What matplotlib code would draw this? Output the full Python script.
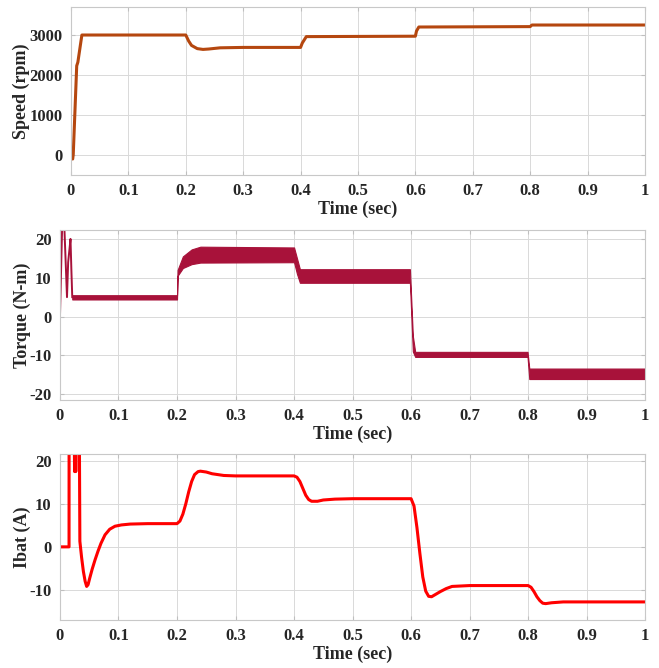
import matplotlib.pyplot as plt

# speed (rpm)
speed_t = [0, 0.003, 0.004, 0.01, 0.012, 0.019, 0.2, 0.205, 0.21, 0.22, 0.23, 0.24,
           0.26, 0.3, 0.4, 0.403, 0.41, 0.6, 0.602, 0.606, 0.8, 0.803, 1.0]
speed_v = [-60, -100, 25, 2230, 2320, 3000, 3000, 2850, 2740, 2660, 2640, 2650,
           2680, 2690, 2690, 2800, 2960, 2970, 3100, 3200, 3210, 3250, 3250]

# torque start-up transient (N-m)
torque_start_t = [0, 0.004, 0.0055, 0.007, 0.012, 0.014, 0.016, 0.018, 0.0195, 0.021]
torque_start_v = [0, 25, 40, 25, 5, 14, 17, 20, 12, 5]

# torque ripple band (upper / lower envelope)
torque_t = [0.021, 0.2, 0.201, 0.21, 0.225, 0.24, 0.4, 0.405, 0.41, 0.598,
            0.603, 0.607, 0.799, 0.802, 1.0]
torque_hi = [5.5, 5.5, 12, 15.5, 17.3, 18.0, 17.8, 15, 12.2, 12.2,
             -5, -9.1, -9.1, -13.4, -13.4]
torque_lo = [4.4, 4.4, 10.5, 12.5, 13.5, 13.9, 14.0, 11, 8.7, 8.7,
             -9, -10.4, -10.4, -16.1, -16.1]

# battery current (A)
ibat_t = [0, 0.0155, 0.0156, 0.024, 0.025, 0.026, 0.027, 0.028, 0.030, 0.033,
          0.034, 0.037, 0.040, 0.043, 0.0456, 0.048, 0.051, 0.055, 0.06, 0.065,
          0.07, 0.077, 0.085, 0.094, 0.105, 0.12, 0.15, 0.2, 0.205, 0.21, 0.215,
          0.22, 0.225, 0.23, 0.236, 0.24, 0.25, 0.26, 0.28, 0.3, 0.35, 0.4,
          0.405, 0.41, 0.415, 0.42, 0.425, 0.43, 0.44, 0.45, 0.47, 0.5,
          0.6, 0.605, 0.61, 0.615, 0.62, 0.625, 0.63, 0.635, 0.64, 0.65, 0.66,
          0.67, 0.7, 0.8, 0.805, 0.81, 0.815, 0.82, 0.825, 0.83, 0.84, 0.86,
          0.9, 1.0]
ibat_v = [0, 0, 30, 30, 17.5, 30, 17.5, 30, 30, 30,
          1.3, -2.5, -5.7, -8.0, -9.2, -8.8, -7.2, -5.2, -3.0, -1.0,
          0.8, 2.8, 4.1, 4.8, 5.1, 5.3, 5.4, 5.4, 6.0, 7.6, 10.0,
          12.8, 15.2, 16.8, 17.5, 17.6, 17.4, 17.0, 16.6, 16.5, 16.5, 16.5,
          16.2, 15.2, 13.6, 12.0, 11.0, 10.6, 10.6, 10.9, 11.1, 11.2,
          11.2, 9.5, 4.5, -1.5, -7.0, -10.3, -11.5, -11.6, -11.2, -10.4, -9.7,
          -9.2, -9.0, -9.0, -9.4, -10.4, -11.6, -12.5, -13.1, -13.2, -13.0, -12.8,
          -12.8, -12.8]

xticks = [0, 0.1, 0.2, 0.3, 0.4, 0.5, 0.6, 0.7, 0.8, 0.9, 1]
xtick_labels = ["0", "0.1", "0.2", "0.3", "0.4", "0.5", "0.6", "0.7", "0.8", "0.9", "1"]

plt.rcParams["font.family"] = ["Liberation Serif", "DejaVu Serif"]
plt.rcParams["font.weight"] = "bold"
plt.rcParams["font.size"] = 13
plt.rcParams["axes.unicode_minus"] = False

fig = plt.figure(figsize=(6.59, 6.68), dpi=100)
ax1 = fig.add_axes([0.1077, 0.738, 0.871, 0.2515])
ax2 = fig.add_axes([0.091, 0.4012, 0.888, 0.2545])
ax3 = fig.add_axes([0.091, 0.0719, 0.888, 0.2485])

ax1.plot(speed_t, speed_v, color="#b5470f", lw=2.2)
ax1.set_ylim(-500, 3700)
ax1.set_yticks([0, 1000, 2000, 3000])
ax1.set_ylabel("Speed (rpm)", fontweight="bold")
ax1.yaxis.set_label_coords(-0.071, 0.5)

ax2.plot(torque_start_t, torque_start_v, color="#a8123a", lw=1.4)
ax2.fill_between(torque_t, torque_lo, torque_hi, color="#a8123a", lw=0.8,
                 edgecolor="#a8123a")
ax2.set_ylim(-21.5, 22.3)
ax2.set_yticks([-20, -10, 0, 10, 20])
ax2.set_ylabel("Torque (N-m)", fontweight="bold")
ax2.yaxis.set_label_coords(-0.05, 0.5)

ax3.plot(ibat_t, ibat_v, color="#ff0000", lw=2.2)
ax3.set_ylim(-17, 21.6)
ax3.set_yticks([-10, 0, 10, 20])
ax3.set_ylabel("Ibat (A)", fontweight="bold")
ax3.yaxis.set_label_coords(-0.05, 0.5)

for ax in (ax1, ax2, ax3):
    ax.set_xlim(0, 1)
    ax.set_xticks(xticks)
    ax.set_xticklabels(xtick_labels)
    ax.set_xlabel("Time (sec)", fontweight="bold", labelpad=1)
    ax.grid(True, color="#d9d9d9", lw=0.7)
    ax.set_axisbelow(True)
    ax.tick_params(direction="in", top=True, right=True, length=3,
                   color="#bfbfbf", labelcolor="#262626", pad=6, labelsize=12)
    for s in ax.spines.values():
        s.set_color("#c8c8c8")
        s.set_linewidth(0.8)
    ax.xaxis.label.set_color("#262626")
    ax.yaxis.label.set_color("#262626")

fig.savefig("out.png", dpi=100)
